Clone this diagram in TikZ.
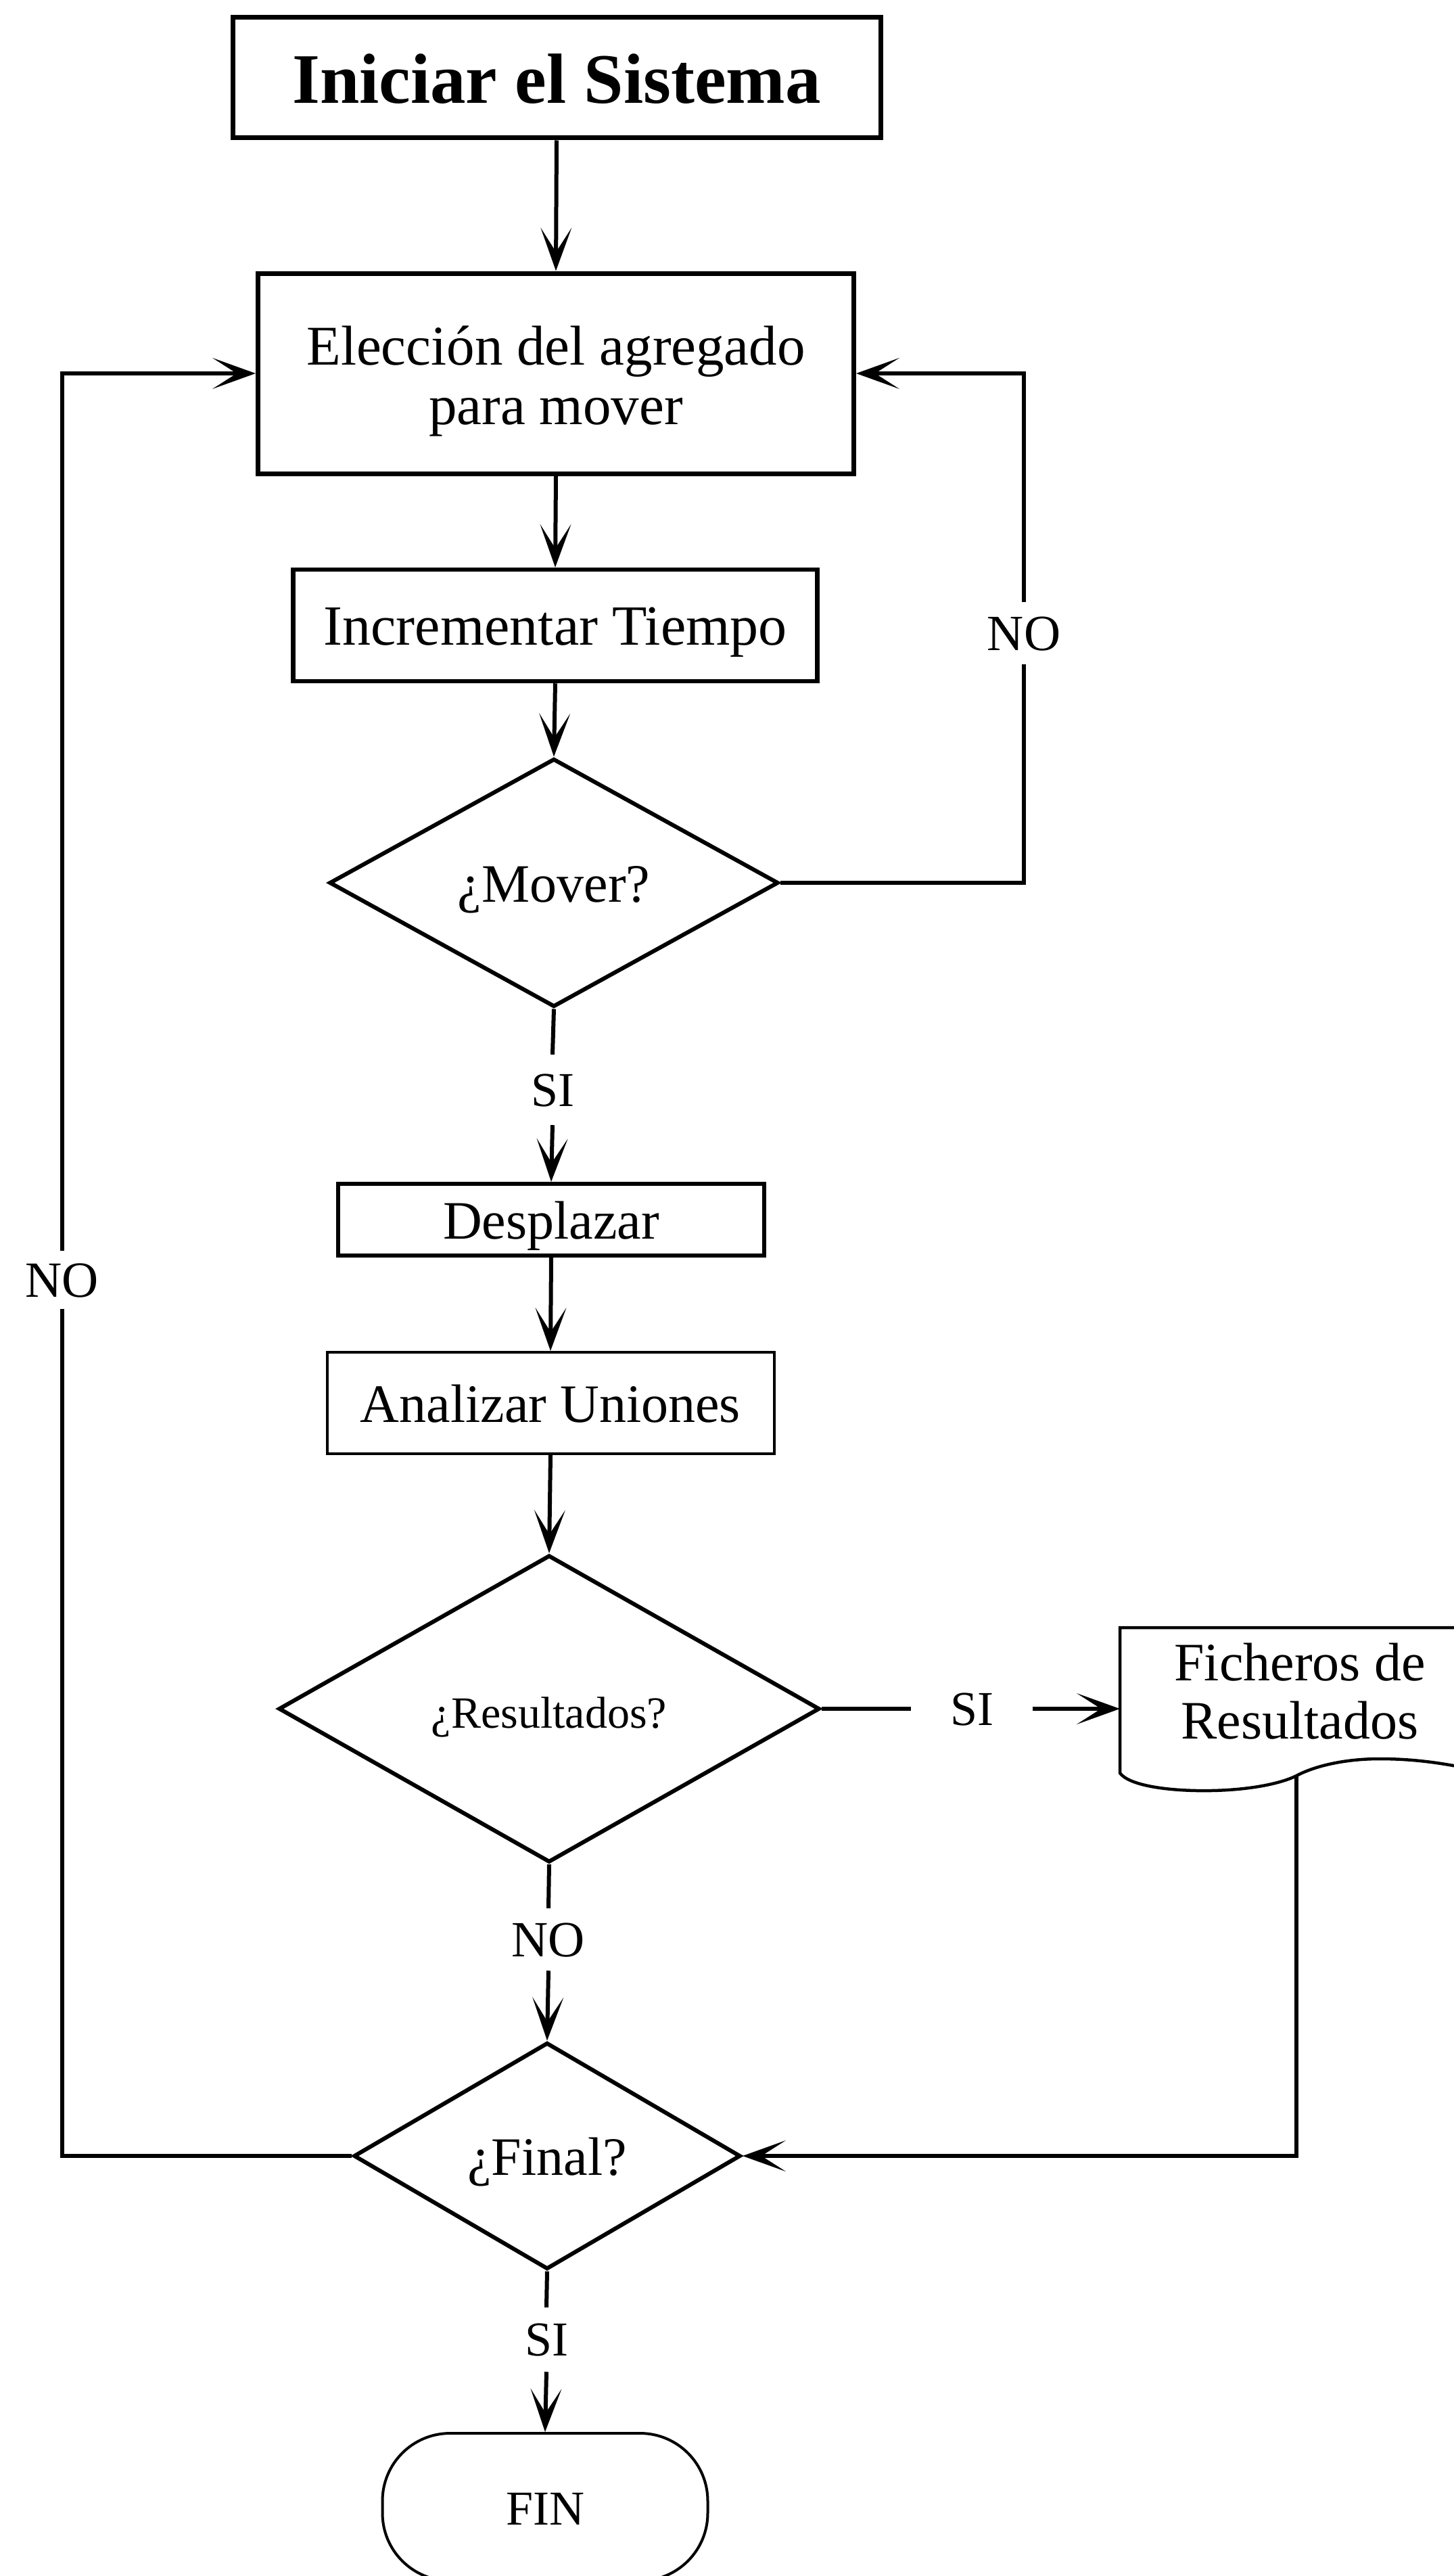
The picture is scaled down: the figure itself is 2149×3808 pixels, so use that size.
\documentclass[tikz,border=0pt]{standalone}
\usepackage{fontspec}
\setmainfont{Liberation Serif}
\usetikzlibrary{arrows.meta,shapes.geometric}
\tikzset{
  conn/.style={line width=6pt},
  arr/.style={conn, -{Stealth[length=64pt,width=46pt,inset=36pt,line width=2pt]}},
  box/.style={draw, rectangle, line width=6.5pt, inner sep=0pt, align=center,
    font=\fontsize{80}{88}\selectfont},
  oneline/.style={text height=57pt, text depth=0pt},
  dec/.style={draw, diamond, line width=6pt, inner sep=0pt, aspect=1.8,
    font=\fontsize{80}{88}\selectfont, text height=57pt, text depth=0pt},
  lblno/.style={inner xsep=0pt, font=\fontsize{75}{80}\selectfont, text height=50pt, text depth=0pt},
  lblsi/.style={inner xsep=0pt, font=\fontsize{72}{80}\selectfont, text height=48pt, text depth=0pt},
}
\begin{document}
\begin{tikzpicture}[x=1pt,y=-1pt]
\useasboundingbox (0,0) rectangle (2149,3808);

% boxes
\node[box, oneline, line width=7pt, minimum width=958pt, minimum height=178pt,
  font=\bfseries\fontsize{105}{110}\selectfont, text height=76pt] (ini) at (823,115) {Iniciar el Sistema};
\node[box, line width=7pt, minimum width=881pt, minimum height=296pt,
  font=\fontsize{83}{88}\selectfont] (elec) at (822,552) {\rule{0pt}{80pt}Elección del agregado\\para mover};
\node[box, oneline, minimum width=775pt, minimum height=165pt, font=\fontsize{84}{88}\selectfont] (inc) at (821,924.5) {Incrementar Tiempo};
\node[dec, minimum width=664pt, minimum height=367pt] (mover) at (819,1305) {¿Mover?};
\node[box, oneline, line width=6pt, minimum width=630pt, minimum height=106pt] (desp) at (815,1803) {Desplazar};
\node[box, oneline, line width=4pt, minimum width=661pt, minimum height=150pt] (anal) at (814,2074) {Analizar Uniones};
\node[dec, minimum width=800pt, minimum height=454pt, font=\fontsize{66}{70}\selectfont, text height=56pt] (res) at (812,2526) {¿Resultados?};
\node[dec, minimum width=572pt, minimum height=335pt] (final) at (809,3187) {¿Final?};
\node[box, oneline, rounded corners=100pt, line width=4pt, minimum width=481pt, minimum height=218pt,
  font=\fontsize{72}{80}\selectfont, text height=52pt] (fin) at (806,3706) {FIN};

% document shape
\node[inner sep=0pt, align=center, font=\fontsize{80}{86}\selectfont] (fich) at (1922,2500) {Ficheros de\\Resultados};
\draw[line width=4.5pt] (2170,2406) -- (1656,2406) -- (1656,2621)
  .. controls (1670,2640) and (1730,2648) .. (1790,2647)
  .. controls (1850,2646) and (1895,2636) .. (1917,2625)
  .. controls (1945,2610) and (1990,2600) .. (2040,2600)
  .. controls (2090,2600) and (2130,2606) .. (2170,2614);
\coordinate (fichL) at (1656,2526);
\coordinate (fichB) at (1917,2625);

% labels
\node[lblno, inner ysep=21pt] (noR) at (1514,936) {NO};
\node[lblno, inner ysep=18pt] (noL) at (92,1892) {NO};
\node[lblsi, inner ysep=28pt] (siA) at (817,1611) {SI};
\node[lblno, inner ysep=21pt] (noB) at (811,2867) {NO};
\node[lblsi, inner ysep=23.5pt] (siC) at (808,3458.5) {SI};
\node[lblsi, inner xsep=57.5pt, inner ysep=0pt] (siR) at (1437,2526) {SI};

% connectors
\draw[arr] (ini.south) -- (elec.north);
\draw[arr] (elec.south) -- (inc.north);
\draw[arr] (inc.south) -- (mover.north);
\draw[conn] (mover.south) -- (siA.north);
\draw[arr] (siA.south) -- (desp.north);
\draw[arr] (desp.south) -- (anal.north);
\draw[arr] (anal.south) -- (res.north);
\draw[conn] (res.south) -- (noB.north);
\draw[arr] (noB.south) -- (final.north);
\draw[conn] (final.south) -- (siC.north);
\draw[arr] (siC.south) -- (fin.north);
\draw[conn] (res.east) -- (siR.west);
\draw[arr] (siR.east) -- (fichL);
\draw[arr] (fichB) |- (final.east);
\draw[conn] (mover.east) -| (noR.south);
\draw[arr] (noR.north) |- (elec.east);
\draw[conn] (final.west) -| (noL.south);
\draw[arr] (noL.north) |- (elec.west);
\end{tikzpicture}
\end{document}
